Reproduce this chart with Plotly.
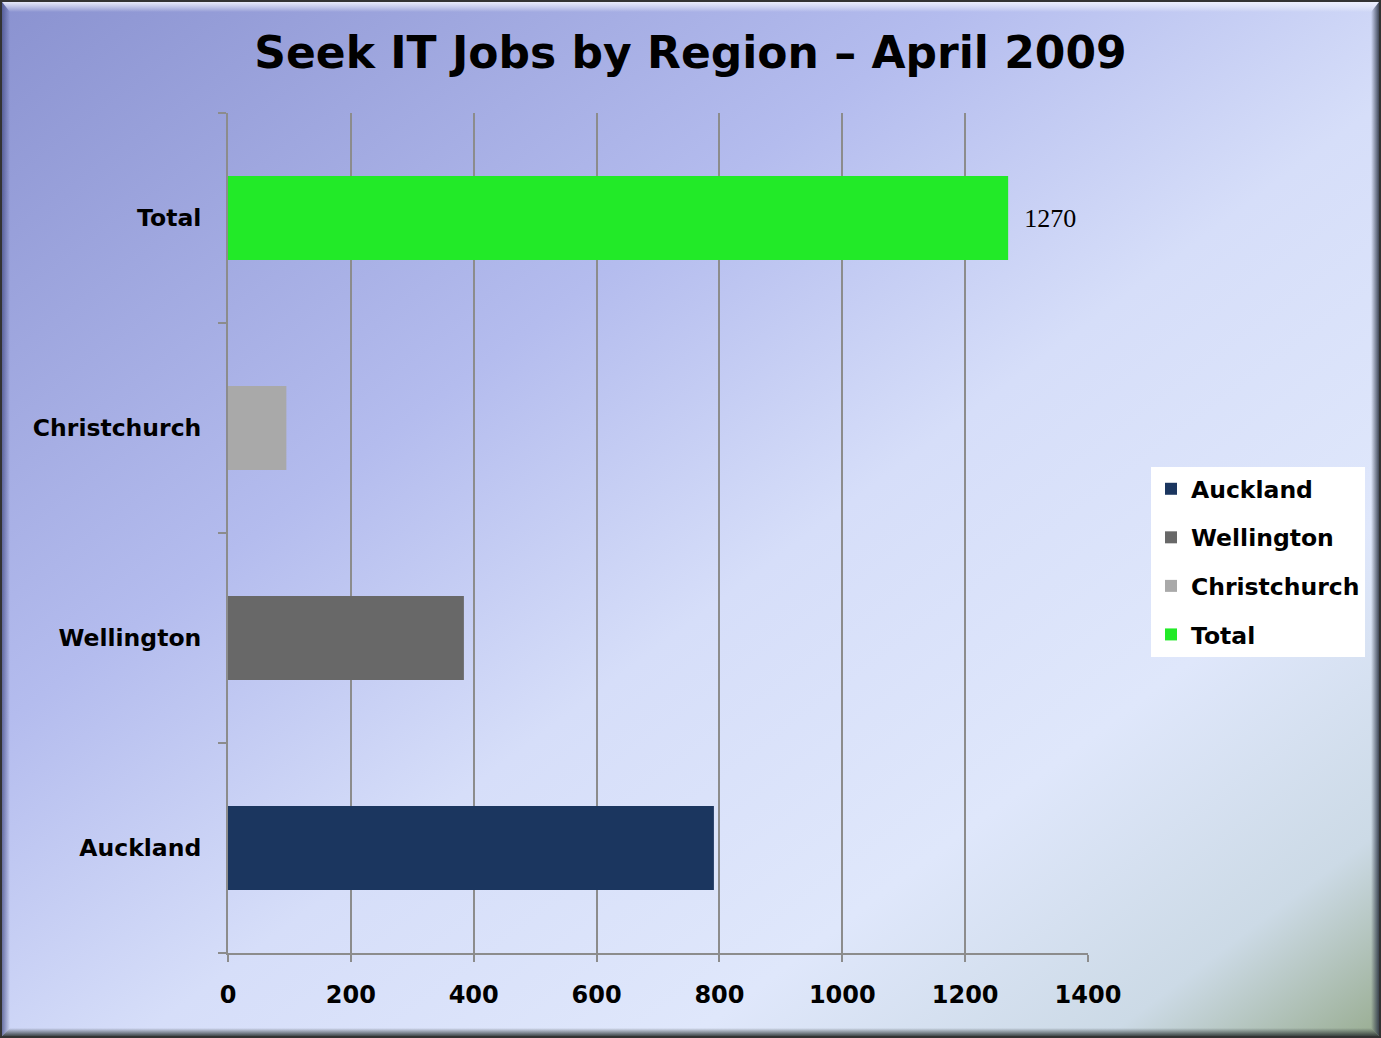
import base64
import plotly.graph_objects as go

# ---- data ----
categories = ["Auckland", "Wellington", "Christchurch", "Total"]
values = [791, 384, 95, 1270]
colors = ["#1b365f", "#686868", "#a9a9a9", "#22ea28"]
x_ticks = [0, 200, 400, 600, 800, 1000, 1200, 1400]
title = "Seek IT Jobs by Region – April 2009"

W, H = 1381, 1038
ML, MR, MT, MB = 228, 293, 113, 85
PW, PH = W - ML - MR, H - MT - MB

# ---- background (gradient + bevel frame) as svg ----
svg = f'''<svg xmlns="http://www.w3.org/2000/svg" width="{W}" height="{H}" viewBox="0 0 {W} {H}" preserveAspectRatio="none">
<defs>
<linearGradient id="g" x1="0" y1="0" x2="1" y2="1">
<stop offset="0" stop-color="#8a92d0"/>
<stop offset="0.35" stop-color="#b4bcee"/>
<stop offset="0.55" stop-color="#d6def9"/>
<stop offset="0.75" stop-color="#dfe7fb"/>
<stop offset="0.9" stop-color="#ccdae6"/>
<stop offset="1" stop-color="#98ac90"/>
</linearGradient>
<linearGradient id="top" x1="0" y1="0" x2="0" y2="1">
<stop offset="0" stop-color="#f0f2ff" stop-opacity="0.9"/>
<stop offset="1" stop-color="#ffffff" stop-opacity="0"/>
</linearGradient>
<linearGradient id="right" x1="1" y1="0" x2="0" y2="0">
<stop offset="0" stop-color="#303848" stop-opacity="0.9"/>
<stop offset="1" stop-color="#303848" stop-opacity="0"/>
</linearGradient>
<linearGradient id="bottom" x1="0" y1="1" x2="0" y2="0">
<stop offset="0" stop-color="#303838" stop-opacity="0.9"/>
<stop offset="1" stop-color="#303838" stop-opacity="0"/>
</linearGradient>
<linearGradient id="left" x1="0" y1="0" x2="1" y2="0">
<stop offset="0" stop-color="#404880" stop-opacity="0.7"/>
<stop offset="1" stop-color="#404880" stop-opacity="0"/>
</linearGradient>
</defs>
<rect x="0" y="0" width="{W}" height="{H}" fill="url(#g)"/>
<polygon points="2,2 {W-2},2 {W-10},12 10,12" fill="url(#top)"/>
<polygon points="{W-2},2 {W-2},{H-2} {W-10},{H-10} {W-10},12" fill="url(#right)"/>
<polygon points="2,{H-2} {W-2},{H-2} {W-10},{H-10} 10,{H-10}" fill="url(#bottom)"/>
<polygon points="2,2 10,12 10,{H-10} 2,{H-2}" fill="url(#left)"/>
<rect x="1" y="1" width="{W-2}" height="{H-2}" fill="none" stroke="#333" stroke-width="2"/>
</svg>'''
src = "data:image/svg+xml;base64," + base64.b64encode(svg.encode()).decode()

fig = go.Figure()
for cat, val, col in zip(categories, values, colors):
    fig.add_trace(go.Bar(
        y=[cat], x=[val], name=cat, orientation="h",
        marker=dict(color=col, line=dict(width=0)),
        width=0.4,
        text=[f"  {val}"] if cat == "Total" else None,
        textposition="outside" if cat == "Total" else None,
        textfont=dict(family="Liberation Serif", size=26, color="black"),
        cliponaxis=False,
        legendgroup=cat,
    ))

fig.update_layout(
    width=W, height=H,
    barmode="overlay",
    paper_bgcolor="rgba(0,0,0,0)",
    plot_bgcolor="rgba(0,0,0,0)",
    margin=dict(l=ML, r=MR, t=MT, b=MB),
    images=[dict(source=src, xref="paper", yref="paper",
                 x=-ML / PW, y=1 + MT / PH,
                 sizex=W / PW, sizey=H / PH, xanchor="left", yanchor="top",
                 sizing="stretch", layer="below")],
    title=dict(text=title, x=0.5, xanchor="center", y=1 - 53 / H, yanchor="middle",
               font=dict(family="DejaVu Sans", size=44, color="black", weight="bold")),
    font=dict(family="DejaVu Sans", color="black"),
    legend=dict(
        x=1151 / W, xanchor="left", y=1 - 562 / H, yanchor="middle",
        xref="container", yref="container",
        bgcolor="white", borderwidth=0,
        font=dict(family="DejaVu Sans", size=23.5, color="black", weight="bold"),
        traceorder="grouped", tracegroupgap=15,
        itemwidth=30,
    ),
    showlegend=True,
)
fig.update_xaxes(
    range=[0, 1400], tickvals=x_ticks, ticktext=[str(v) for v in x_ticks],
    showgrid=True, gridcolor="#8c8c8c", gridwidth=2,
    showline=True, linecolor="#8c8c8c", linewidth=2,
    ticks="outside", ticklen=7, tickcolor="#8c8c8c", tickwidth=2,
    ticklabelstandoff=12,
    tickfont=dict(family="DejaVu Sans", size=24, color="black", weight="bold"),
    zeroline=False, fixedrange=True,
)
fig.update_yaxes(
    type="category", categoryorder="array", categoryarray=categories,
    showgrid=False, showline=True, linecolor="#8c8c8c", linewidth=2,
    ticks="outside", ticklen=8, tickcolor="#8c8c8c", tickwidth=2,
    tickson="boundaries", ticklabelstandoff=20,
    tickfont=dict(family="DejaVu Sans", size=23.5, color="black", weight="bold"),
    zeroline=False, fixedrange=True,
)

fig.write_html("out.html", config={"displayModeBar": False},
               post_script="document.body.style.margin='0';document.body.style.overflow='hidden';")
